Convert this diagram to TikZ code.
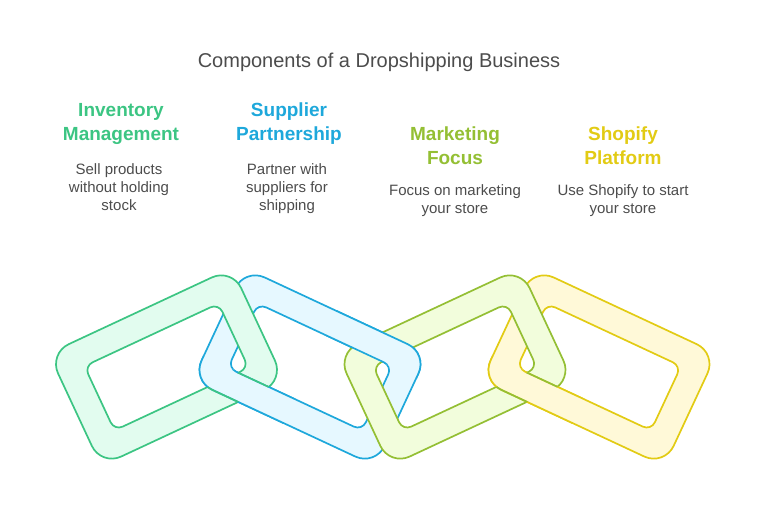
\documentclass[tikz,border=0pt]{standalone}
\usepackage{xcolor}
\usepackage{fontspec}
\setmainfont{Liberation Sans}
\definecolor{greenline}{HTML}{3CC583}
\definecolor{greenfill}{HTML}{E2FCEF}
\definecolor{blueline}{HTML}{1EA8DB}
\definecolor{bluefill}{HTML}{E6F8FF}
\definecolor{oliveline}{HTML}{94BF34}
\definecolor{olivefill}{HTML}{F2FDDC}
\definecolor{yellowline}{HTML}{E2CB14}
\definecolor{yellowfill}{HTML}{FFF9D8}
\tikzstyle{title} = [text=black!70, font=\fontsize{20}{24}\selectfont]
\tikzstyle{head} = [align=center, font=\bfseries\fontsize{19}{24}\selectfont]
\tikzstyle{desc} = [align=center, text=black!70, font=\fontsize{15}{18}\selectfont]
\tikzstyle{ringpath} = [insert path={[rounded corners=22pt] (-101,-62) rectangle (101,62) [rounded corners=9pt] (-74,-35.5) rectangle (74,35.5)}]
\tikzstyle{ringline} = [line width=1.7pt]
\tikzstyle{greenframe} = [shift={(166.5,367)}, rotate=25]
\tikzstyle{blueframe} = [shift={(310,367)}, rotate=-25]
\tikzstyle{oliveframe} = [shift={(455,367)}, rotate=25]
\tikzstyle{yellowframe} = [shift={(599,367)}, rotate=-25]

\begin{document}
\begin{tikzpicture}[x=1pt,y=-1pt,even odd rule]

	\useasboundingbox (0,0) rectangle (758,530);

	\node (title) [title] at (379,62.5) {Components of a Dropshipping Business};

	\node (headgreen) [head,text=greenline] at (121,124) {Inventory\\Management};
	\node (headblue) [head,text=blueline] at (289,124) {Supplier\\Partnership};
	\node (headolive) [head,text=oliveline] at (455,146) {Marketing\\Focus};
	\node (headyellow) [head,text=yellowline] at (623,146) {Shopify\\Platform};

	\node (descgreen) [desc] at (119,187) {Sell products\\without holding\\stock};
	\node (descblue) [desc] at (287,189) {Partner with\\suppliers for\\shipping};
	\node (descolive) [desc] at (455,201) {Focus on marketing\\your store};
	\node (descyellow) [desc] at (623,201) {Use Shopify to start\\your store};

	% rings, back to front
	\draw [blueframe,ringpath,ringline,draw=blueline,fill=bluefill];
	\draw [greenframe,ringpath,ringline,draw=greenline,fill=greenfill];
	\draw [yellowframe,ringpath,ringline,draw=yellowline,fill=yellowfill];
	\draw [oliveframe,ringpath,ringline,draw=oliveline,fill=olivefill];

	% lower arm of blue goes over green
	\begin{scope}
		\clip [blueframe] (-130,34.7) rectangle (0,90);
		\draw [blueframe,ringpath,ringline,draw=blueline,fill=bluefill];
		\clip [greenframe,ringpath];
		\draw [blueframe,ringpath,ringline,draw=greenline];
	\end{scope}

	% lower arm of yellow goes over olive
	\begin{scope}
		\clip [yellowframe] (-130,34.7) rectangle (0,90);
		\draw [yellowframe,ringpath,ringline,draw=yellowline,fill=yellowfill];
		\clip [oliveframe,ringpath];
		\draw [yellowframe,ringpath,ringline,draw=oliveline];
	\end{scope}

	% upper arm of blue goes over olive
	\begin{scope}
		\clip [blueframe] (0,-90) rectangle (130,-34.7);
		\draw [blueframe,ringpath,ringline,draw=blueline,fill=bluefill];
	\end{scope}

\end{tikzpicture}
\end{document}
